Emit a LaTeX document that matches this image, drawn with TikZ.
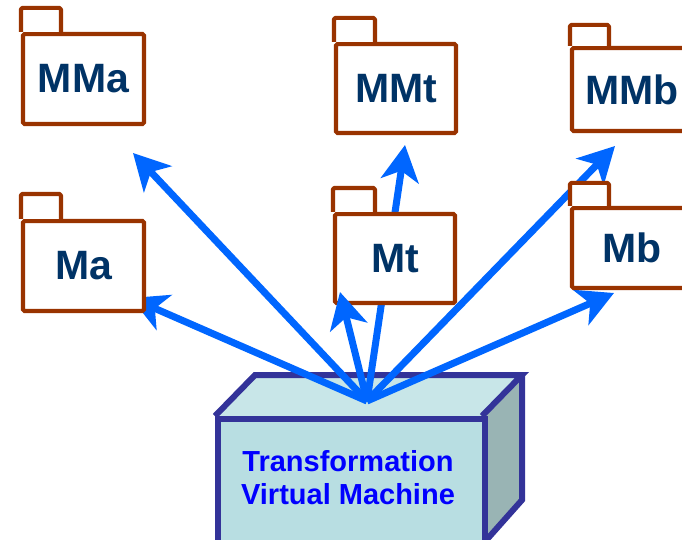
\documentclass[tikz,border=0pt]{standalone}
\usepackage{fontspec}
\setmainfont{Liberation Sans}
\usetikzlibrary{arrows.meta}
\definecolor{pkgcol}{HTML}{993300}
\definecolor{pkgtext}{HTML}{003366}
\definecolor{arrowcol}{HTML}{0066FF}
\definecolor{boxedge}{HTML}{333399}
\definecolor{frontfill}{HTML}{B8DEE2}
\definecolor{topfill}{HTML}{C8E6E8}
\definecolor{sidefill}{HTML}{99B4B4}
\definecolor{tvmtext}{HTML}{0000FF}
\tikzset{
  pkg/.style={draw=pkgcol, line width=4.2pt, fill=white, rounded corners=1.5pt,
    font=\fontsize{41}{41}\selectfont\bfseries, text=pkgtext, inner sep=0pt},
  pkgtab/.style={draw=pkgcol, line width=4.2pt, fill=white, rounded corners=1.5pt, line join=round},
  trans/.style={draw=arrowcol, line width=7pt,
    -{Stealth[length=36pt, width=38pt, inset=10pt]}},
  boxline/.style={draw=boxedge, line width=6pt, line join=miter}
}
\begin{document}
\begin{tikzpicture}[x=1pt, y=-1pt]
\useasboundingbox (0,0) rectangle (682,540);
\clip (0,0) rectangle (682,540);
% machine box
\coordinate (src) at (367,401);
\fill[topfill] (215,416) -- (255,375) -- (522,375) -- (482,416) -- cycle;
\fill[sidefill] (482,416) -- (522,375) -- (522,500) -- (482,545) -- cycle;
\node[fill=frontfill, minimum width=267pt, minimum height=140pt, inner sep=0pt, anchor=north west,
  draw=boxedge, line width=6pt] (tvm) at (215,416) {};
\draw[boxline] (215,416) -- (255,375) -- (522,375) -- (482,416);
\draw[boxline] (522,375) -- (522,500) -- (482,545);
\node[text=tvmtext, font=\fontsize{29}{33}\selectfont\bfseries, align=center] (tvmlabel) at (348,478) {Transformation\\Virtual Machine};
% arrows
\coordinate (tMMa) at (133,153);
\coordinate (tMa) at (131,298);
\coordinate (tMt) at (340,292);
\coordinate (tMMt) at (405,145);
\coordinate (tMMb) at (615,146);
\coordinate (tMb) at (614,293);
\draw[trans] (src) -- (tMMa);
\draw[trans] (src) -- (tMa);
\draw[trans] (src) -- (tMMt);
\draw[trans] (src) -- (tMMb);
\draw[trans] (src) -- (tMb);
% packages
\node[pkg, minimum width=121pt, minimum height=90pt] (MMa) at (83.5,79) {MMa};
\draw[pkgtab] (MMa.north west) -- ++(0,-24) -- ++(40,0) -- ++(0,24);
\node[pkg, minimum width=121pt, minimum height=90pt] (Ma) at (83.5,266) {Ma};
\draw[pkgtab] (Ma.north west) -- ++(0,-25) -- ++(40,0) -- ++(0,25);
\node[pkg, minimum width=120pt, minimum height=89pt] (MMt) at (396,88.5) {MMt};
\draw[pkgtab] (MMt.north west) -- ++(0,-24) -- ++(41,0) -- ++(0,24);
\node[pkg, minimum width=120pt, minimum height=89pt] (Mt) at (395,258.5) {Mt};
\draw[pkgtab] (Mt.north west) -- ++(0,-24) -- ++(42,0) -- ++(0,24);
\node[pkg, minimum width=120pt, minimum height=83pt] (MMb) at (632,89.5) {MMb};
\draw[pkgtab] (MMb.north west) -- ++(0,-21) -- ++(39,0) -- ++(0,21);
\node[pkg, minimum width=120pt, minimum height=80pt] (Mb) at (632,248) {Mb};
\draw[pkgtab] (Mb.north west) -- ++(0,-23) -- ++(39,0) -- ++(0,23);
% arrow to Mt drawn over
\draw[trans] (src) -- (tMt);
\end{tikzpicture}
\end{document}
